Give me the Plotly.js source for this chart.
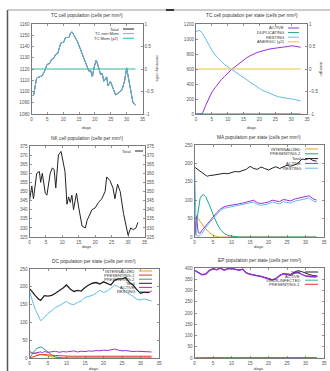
<!DOCTYPE html>
<html><head><meta charset="utf-8">
<script src="https://cdn.plot.ly/plotly-3.0.1.min.js"></script>
<style>html,body{margin:0;padding:0;background:#fff}#chart{width:330px;height:371px}</style>
</head><body><div id="chart"></div>
<script>
// ---------- DATA ----------
// Panel 1: TC cell population
const tcDays = [0,0.7,1.6,2.3,3.4,4.1,4.9,5.8,6.2,7.1,7.6,8.3,9.2,10.2,10.7,11.8,12.3,12.8,13.4,14.4,15.5,16.5,17.6,18.1,18.6,19.2,19.7,20.4,21.1,21.8,22.3,22.8,23.7,24.1,24.9,25.8,26.5,27.6,28.6,29.4,30,30.7,31.3,32,32.8];
const tcTotal = [1096,1097,1112,1113,1114,1118,1124,1125,1128,1130,1133,1134,1143,1144,1148,1148,1152,1153,1150,1145,1137,1130,1122,1118,1119,1113,1121,1128,1122,1115,1116,1109,1113,1105,1109,1102,1097,1099,1102,1110,1121,1110,1102,1090,1088];
const tcMemDays = [0,32.8];
const tcMem = [0,0];

// Panel 2: TC per state
const tcsDays = [0,1,2,3,4,5,6,7,8,9,10,11,12,13,14,15,16,17,18,19,20,21,22,23,24,25,26,27,28,29,30,31,32,33];
const tcsActive = [0,0,5,110,210,290,350,410,460,500,545,585,620,655,690,720,750,775,800,815,830,845,855,865,872,880,885,890,895,900,910,905,895,890];
const tcsDup = [0,0,2,6,8,8,7,6,5,4,4,3,3,3,2,2,2,2,2,2,2,2,2,2,2,2,2,2,2,2,2,2,2,2];
const tcsResting = [1100,1115,1080,1000,920,850,790,740,700,660,630,600,570,540,510,480,450,420,390,365,340,315,295,275,260,245,230,220,210,205,200,195,185,175];
const tcsAnergic = [0,0,0,0,0,0,0,0,0,0,0,0,0,0,0,0,0,0,0,0,0,0,0,0,0,0,0,0,0,0,0,0,0,0];

// Panel 3: NK cell population
const nkDays = [0,0.7,1.2,2.2,3,3.4,3.9,4.8,5.3,6.3,7,7.5,8,8.8,9.6,10.3,10.8,11.4,11.9,12.4,12.9,13.4,13.9,14.3,14.9,15.4,16,17,17.5,18,19,20,21,22,23,23.5,24.5,25.4,26,26.8,27.6,28.6,29.4,30,30.8,31.6,32.4,33];
const nkTotal = [345,353,346,360,361,355,360,349,348,360,363,362,352,370,372,366,361,343,347,344,348,340,346,349,342,337,331,330,334,336,340,341,344,346,350,358,356,352,346,354,350,338,331,326,330,329,330,333];

// Panel 4: MA population per state
const maDays = [0,0.5,1,1.5,2,2.5,3,3.5,4,5,6,7,8,9,10,11,12,13,14,15,16,17,18,19,20,21,22,23,24,25,26,27,28,29,30,31,32,33];
const maInternalized = [0,55,50,42,34,28,23,18,12,5,1,0,0,0,0,0,0,0,0,0,0,0,0,0,0,0,0,0,0,0,0,0,0,0,0,0,0,0];
const maPresenting2 = [0,40,80,105,113,115,110,100,88,62,38,20,10,4,2,1,0,0,0,0,0,0,0,0,0,0,0,0,0,0,0,0,0,0,0,0,0,0];
const maTotal = [190,186,184,180,176,172,168,165,167,168,170,171,173,172,176,178,177,180,184,192,186,184,190,186,182,187,191,186,190,195,192,195,200,212,210,214,208,206];
const maActive = [0,58,12,10,18,25,32,36,42,55,66,76,82,85,86,88,90,92,95,97,100,93,91,93,95,100,98,96,102,100,98,103,105,108,110,112,104,100];
const maResting = [195,5,2,4,10,18,26,32,38,50,62,72,78,80,82,84,86,88,90,92,95,88,86,88,90,95,92,90,96,94,92,97,99,102,104,106,98,95];

// Panel 5: DC population per state
const dcDays = [0,0.5,1,1.5,2,2.5,3,3.5,4,5,6,7,8,9,10,11,12,13,14,15,16,17,18,19,20,21,22,23,24,25,26,27,28,29,30,31,32,33];
const dcInternalized = [15,14,13,12,11,10,9,8,7,5,3,2,1,0,0,0,0,0,0,0,0,0,0,0,0,0,0,0,0,0,0,0,0,0,0,0,0,0];
const dcPresenting1 = [0,2,4,6,8,9,10,10,10,9,8,7,6,6,5,5,5,5,5,5,5,5,5,5,5,5,5,5,5,5,5,5,5,5,5,5,5,5];
const dcPresenting2 = [0,8,16,22,27,30,31,29,25,15,8,3,1,0,0,0,0,0,0,0,0,0,0,0,0,0,0,0,0,0,0,0,0,0,0,0,0,0];
const dcTotal = [195,190,183,176,170,165,162,168,175,174,176,182,188,196,205,194,187,190,188,198,205,210,212,208,214,210,205,218,222,222,226,212,205,192,182,185,184,188];
const dcActive = [20,15,13,14,16,15,17,15,18,16,17,19,16,18,17,18,20,17,19,18,20,19,21,20,22,21,23,25,22,20,21,19,18,19,18,17,18,17];
const dcResting = [186,170,150,138,127,115,105,108,114,125,133,142,147,153,159,152,150,156,160,170,172,176,182,190,184,188,196,205,200,196,186,180,173,165,163,166,162,160];

// Panel 6: EP population per state
const epDays = [0,1,2,3,4,5,6,7,8,9,10,11,12,13,14,15,16,17,18,19,20,21,22,23,24,25,26,27,28,29,30,31,32,33];
const epTotal = [391,381,371,373,389,397,393,400,391,397,398,395,391,395,379,373,371,366,363,357,351,348,353,367,375,374,372,382,388,384,377,371,367,365];
const epActive = [390,380,370,372,388,396,392,399,390,396,397,394,390,394,378,372,370,365,362,356,350,347,352,366,374,372,368,378,382,372,365,362,360,360];
const epInfected = [0,1,2,3,3,2,2,1,1,1,1,1,1,1,1,1,1,1,1,1,1,1,1,1,1,1,1,1,1,1,1,1,1,1];
const epPresenting1 = [0,0,1,1,2,2,2,1,1,1,1,1,1,1,1,1,1,1,1,1,1,1,1,1,1,1,1,1,1,1,1,1,1,1];

const xTicks = [0,5,10,15,20,25,30,35];

// ---------- STYLE ----------
const C = {purple:'#9a2fd8', green:'#1aa884', lblue:'#62bde8', orange:'#e6a214', yellow:'#e8c43a', red:'#e5331e', black:'#222222', teal:'#30b89c'};
const W = 330, H = 371;
const px = x => x / W;
const py = y => 1 - y / H;
const tickFont = {family:'Liberation Sans, Arial, sans-serif', size:4.6, color:'#555'};
const txtFont = {family:'Liberation Sans, Arial, sans-serif', size:4.6, color:'#333'};

const panels = [
  {box:[31.5,142.5,24,114], title:'TC cell population (cells per mm³)', yr:[1080,1160], yt:[1080,1090,1100,1110,1120,1130,1140,1150,1160],
   y2:{r:[-1,1], t:[-1,-0.5,0,0.5,1], title:'memory cells'}, daysY:127,
   series:[{n:'Total',x:tcDays,y:tcTotal,c:C.black},{n:'TC non Mem',x:tcDays,y:tcTotal,c:C.lblue},{n:'TC Mem (y2)',x:tcMemDays,y:tcMem,c:C.teal,y2:true}],
   leg:{tr:121,s0:123,s1:134,y:29,dy:4.6}},
  {box:[196,307,24,114], title:'TC cell population per state (cells per mm³)', yr:[0,1200], yt:[0,200,400,600,800,1000,1200],
   y2:{r:[-1,1], t:[-1,-0.5,0,0.5,1], title:'anergic'}, daysY:127,
   series:[{n:'ACTIVE',x:tcsDays,y:tcsActive,c:C.purple},{n:'DUPLICATING',x:tcsDays,y:tcsDup,c:C.green},{n:'RESTING',x:tcsDays,y:tcsResting,c:C.lblue},{n:'ANERGIC (y2)',x:tcsDays,y:tcsAnergic,c:C.yellow,y2:true}],
   leg:{tr:286,s0:288,s1:299,y:28,dy:4.6}},
  {box:[29.5,144.5,146,237], title:'NK cell population (cells per mm³)', yr:[325,375], yt:[325,330,335,340,345,350,355,360,365,370,375],
   y2:{r:[325,375], t:[325,330,335,340,345,350,355,360,365,370,375], title:'', mirrorData:{x:nkDays,y:nkTotal}}, daysY:247,
   series:[{n:'Total',x:nkDays,y:nkTotal,c:C.black}],
   leg:{tr:133,s0:135,s1:143,y:151,dy:4.6}},
  {box:[194.5,324,145,237], title:'MA population per state (cells per mm³)', yr:[0,250], yt:[0,50,100,150,200,250], daysY:247,
   series:[{n:'INTERNALIZED',x:maDays,y:maInternalized,c:C.orange},{n:'PRESENTING-2',x:maDays,y:maPresenting2,c:C.green},{n:'Total',x:maDays,y:maTotal,c:C.black},{n:'ACTIVE',x:maDays,y:maActive,c:C.purple},{n:'RESTING',x:maDays,y:maResting,c:C.lblue}],
   leg:{tr:303,s0:305,s1:318,y:149,dy:4.8}},
  {box:[29.5,159,269,358], title:'DC population per state (cells per mm³)', yr:[0,250], yt:[0,50,100,150,200,250], daysY:368,
   series:[{n:'INTERNALIZED',x:dcDays,y:dcInternalized,c:C.orange},{n:'PRESENTING-1',x:dcDays,y:dcPresenting1,c:C.red},{n:'PRESENTING-2',x:dcDays,y:dcPresenting2,c:C.green},{n:'Total',x:dcDays,y:dcTotal,c:C.black,w:1.3},{n:'ACTIVE',x:dcDays,y:dcActive,c:C.purple},{n:'RESTING',x:dcDays,y:dcResting,c:C.lblue}],
   leg:{tr:137,s0:139,s1:152,y:271,dy:4.1}},
  {box:[194.5,324,268,358], title:'EP population per state (cells per mm³)', yr:[0,400], yt:[0,50,100,150,200,250,300,350,400], daysY:368,
   series:[{n:'Total',x:epDays,y:epTotal,c:C.black},{n:'ACTIVE',x:epDays,y:epActive,c:C.purple,w:1.4},{n:'VIRUS-INFECTED',x:epDays,y:epInfected,c:C.teal},{n:'PRESENTING-1',x:epDays,y:epPresenting1,c:C.red}],
   leg:{tr:302,s0:305,s1:318,y:272,dy:4.1}}
];

const layout = {width:W, height:H, margin:{l:0,r:0,t:0,b:0}, paper_bgcolor:'#fff', plot_bgcolor:'#fff', showlegend:false,
  font:txtFont, annotations:[], shapes:[]};
const traces = [];
const axLine = '#7a7a7a';
let yIdx = 1;
panels.forEach((p, i) => {
  const xn = i === 0 ? '' : String(i + 1);
  const yL = yIdx === 1 ? '' : String(yIdx);
  const xKey = 'xaxis' + xn, yKey = 'yaxis' + yL;
  const xRef = 'x' + xn, yRef = 'y' + yL;
  const [bx0, bx1, by0, by1] = p.box;
  layout[xKey] = {domain:[px(bx0), px(bx1)], anchor:yRef, range:[0,35], tickvals:xTicks, ticks:'inside', ticklen:2, tickwidth:0.7,
    tickcolor:'#666', showline:true, linecolor:axLine, linewidth:1, mirror:'ticks', showgrid:false, zeroline:false,
    tickfont:tickFont, fixedrange:true};
  layout[yKey] = {domain:[py(by1), py(by0)], anchor:xRef, range:p.yr, tickvals:p.yt, ticks:'inside', ticklen:2, tickwidth:0.7,
    tickcolor:'#666', showline:true, linecolor:axLine, linewidth:1, mirror:p.y2 ? false : 'ticks', showgrid:false, zeroline:false,
    tickfont:tickFont, fixedrange:true};
  let y2Ref = null;
  if (p.y2) {
    yIdx++;
    const y2n = String(yIdx);
    y2Ref = 'y' + y2n;
    layout['yaxis' + y2n] = {overlaying:yRef, side:'right', anchor:xRef, range:p.y2.r, tickvals:p.y2.t, ticks:'inside', ticklen:2, tickwidth:0.7,
      tickcolor:'#666', showline:true, linecolor:axLine, linewidth:1, showgrid:false, zeroline:false, tickfont:tickFont, fixedrange:true};
    if (p.y2.mirrorData) {
      traces.push({x:p.y2.mirrorData.x, y:p.y2.mirrorData.y, xaxis:xRef, yaxis:y2Ref, mode:'lines', line:{color:'rgba(0,0,0,0)', width:0}, hoverinfo:'skip'});
    }
    if (p.y2.title) {
      layout.annotations.push({xref:'paper', yref:'paper', x:px(bx1 + 15), y:py((by0 + by1) / 2), text:p.y2.title, textangle:90,
        showarrow:false, font:{...txtFont, size:4.4}, xanchor:'center', yanchor:'middle'});
    }
  }
  yIdx++;
  p.series.forEach(s => {
    traces.push({x:s.x, y:s.y, name:s.n, xaxis:xRef, yaxis:s.y2 ? y2Ref : yRef, mode:'lines', line:{color:s.c, width:s.w || 1}, hoverinfo:'skip'});
  });
  layout.annotations.push({xref:'paper', yref:'paper', x:px((bx0 + bx1) / 2), y:py(by0 - 8), text:p.title, showarrow:false,
    font:{...txtFont, size:4.8}, xanchor:'center', yanchor:'middle'});
  layout.annotations.push({xref:'paper', yref:'paper', x:px((bx0 + bx1) / 2), y:py(p.daysY), text:'days', showarrow:false,
    font:{...txtFont, size:4.4}, xanchor:'center', yanchor:'middle'});
  p.series.forEach((s, k) => {
    const yy = p.leg.y + k * p.leg.dy;
    layout.annotations.push({xref:'paper', yref:'paper', x:px(p.leg.tr), y:py(yy), text:s.n, showarrow:false,
      font:{...txtFont, size:4.1}, xanchor:'right', yanchor:'middle'});
    layout.shapes.push({type:'line', xref:'paper', yref:'paper', x0:px(p.leg.s0), x1:px(p.leg.s1), y0:py(yy), y1:py(yy),
      line:{color:s.c, width:1}});
  });
});
// page frame
layout.shapes.push({type:'line', xref:'paper', yref:'paper', x0:px(7.5), x1:px(7.5), y0:py(10), y1:0, line:{color:'#555', width:1.5}});
layout.shapes.push({type:'line', xref:'paper', yref:'paper', x0:px(7.5), x1:1, y0:py(10), y1:py(10), line:{color:'#999', width:1}});
layout.shapes.push({type:'line', xref:'paper', yref:'paper', x0:px(166), x1:px(174), y0:py(10), y1:py(10), line:{color:'#333', width:2}});

Plotly.newPlot('chart', traces, layout, {staticPlot:true, displayModeBar:false});
</script></body></html>
